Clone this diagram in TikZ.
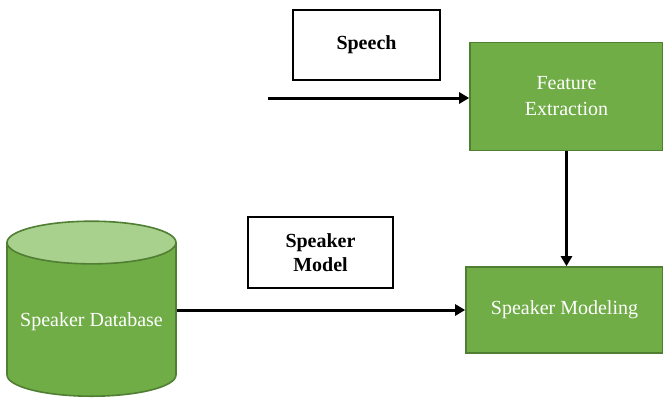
\documentclass[tikz,border=0pt]{standalone}
\usepackage{fontspec}
\setmainfont{Liberation Serif}
\usetikzlibrary{positioning,arrows.meta,shapes.geometric}
\definecolor{leaf}{HTML}{70AD47}
\definecolor{leafdark}{HTML}{507E32}
\definecolor{leaflight}{HTML}{A9D18E}

\begin{document}
\begin{tikzpicture}[
		x=0.5pt, y=-0.5pt,
		node distance=57.5pt,
		greenbox/.style={
			draw=leafdark,
			line width=0.8pt,
			fill=leaf,
			text=white,
			align=center
		},
		tagbox/.style={
			draw,
			line width=0.6pt,
			align=center,
			font=\bfseries
		},
		flow/.style={-{Triangle[length=5pt,width=5.5pt]},line width=1.5pt}
		]
		\useasboundingbox (0,0) rectangle (663,398);
		
		% database cylinder
		\node[cylinder,shape border rotate=90,aspect=3.2,
			draw=leafdark,line width=0.8pt,
			cylinder uses custom fill,
			cylinder body fill=leaf,
			cylinder end fill=leaflight,
			minimum width=84.5pt,minimum height=87.5pt,
			anchor=south]
		(db) at (91.5,397)
		{};
		\node[text=white] (dbtext) at (91.5,322)
		{Speaker Database};
		
		\node[greenbox,minimum width=98.5pt,minimum height=43pt]
		(sm) at (564.5,310)
		{Speaker Modeling};
		
		\node[greenbox,minimum width=96.5pt,minimum height=54pt,
			above=of sm,xshift=1pt]
		(fe)
		{Feature\\[1pt]Extraction};
		
		\node[tagbox,minimum width=73.5pt,minimum height=35pt]
		(speech) at (366.5,45)
		{Speech};
		
		\node[tagbox,minimum width=72.5pt,minimum height=35.5pt]
		(model) at (320.5,252.5)
		{Speaker\\Model};
		
		\coordinate (in) at (268,98);
		
		\draw[flow] (in)--(in -| fe.west);
		\draw[flow] (fe)--(fe |- sm.north);
		\draw[flow] (db.east |- sm.west)--(sm.west);
		
	\end{tikzpicture}
\end{document}
